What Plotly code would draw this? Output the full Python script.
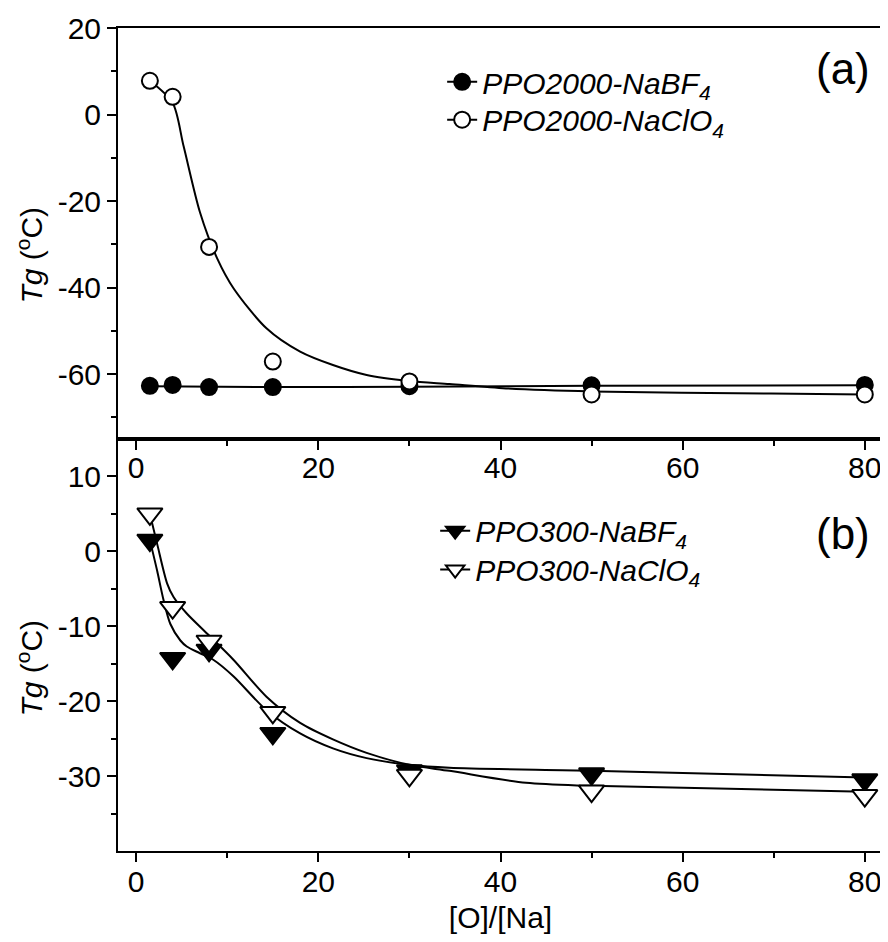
import plotly.graph_objects as go

# ---------------- data ----------------
ratio = [1.5, 4, 8, 15, 30, 50, 80]

# panel (a): PPO2000
tg_a_bf4 = [-62.7, -62.5, -63.0, -63.0, -62.8, -62.6, -62.5]
tg_a_clo4 = [7.8, 4.1, -30.6, -57.1, -61.7, -64.7, -64.7]

# fitted guide curves, panel (a)
fit_a_bf4_x = [1.5, 15, 30, 50, 80]
fit_a_bf4_y = [-62.8, -63.0, -62.9, -62.7, -62.6]
fit_a_clo4_x = [1.5, 4, 5.2, 7.0, 8.9, 10.7, 14.3, 18.0, 21.6, 25.3, 30, 34.4, 40.6, 50, 69.7, 80]
fit_a_clo4_y = [7.8, 2.7, -7.3, -22.6, -33.3, -40.2, -49.4, -54.8, -57.9, -60.2, -61.6, -62.3, -63.3, -64.0, -64.5, -64.7]

# panel (b): PPO300
tg_b_bf4 = [1.5, -14.3, -13.2, -24.3, -29.3, -29.7, -30.5]
tg_b_clo4 = [5.0, -7.5, -12.0, -21.5, -29.9, -32.0, -32.6]

fit_b_bf4_x = [1.5, 2.3, 3.0, 3.75, 4.85, 5.55, 7.0, 8.5, 10.7, 14.3, 18.0, 21.6, 25.3, 30, 34.4, 50, 80]
fit_b_bf4_y = [1.5, -2.6, -6.5, -9.7, -11.9, -12.7, -13.6, -14.5, -16.7, -21.2, -24.3, -26.3, -27.6, -28.5, -28.9, -29.3, -30.2]
fit_b_clo4_x = [1.5, 2.3, 3.4, 4.1, 5.55, 7.8, 10.7, 14.3, 18.0, 21.6, 25.3, 30, 34.4, 42.8, 50, 80]
fit_b_clo4_y = [5.0, 1.0, -4.3, -6.1, -8.3, -11.0, -14.5, -19.4, -22.9, -25.1, -26.9, -28.5, -29.3, -30.9, -31.3, -32.1]

names_a = ["<i>PPO2000-NaBF<sub>4</sub></i>", "<i>PPO2000-NaClO<sub>4</sub></i>"]
names_b = ["<i>PPO300-NaBF<sub>4</sub></i>", "<i>PPO300-NaClO<sub>4</sub></i>"]

ya_ticks = [-60, -40, -20, 0, 20]
yb_ticks = [-30, -20, -10, 0, 10]
x_ticks = [0, 20, 40, 60, 80]

FONT = "Liberation Sans, Arial, sans-serif"
LW = 2
CIRC = 16
TRI = 22

fig = go.Figure()

def fit_line(x, y, xa, ya):
    fig.add_trace(go.Scatter(x=x, y=y, mode="lines", line=dict(color="black", width=LW, shape="spline", smoothing=0.8),
                             xaxis=xa, yaxis=ya, showlegend=False, hoverinfo="skip"))

def pts(x, y, xa, ya, symbol, fill, size):
    fig.add_trace(go.Scatter(x=x, y=y, mode="markers", showlegend=False,
                             marker=dict(symbol=symbol, size=size, color=fill, line=dict(color="black", width=2)),
                             xaxis=xa, yaxis=ya))

def legend_item(symbol, fill, name, legend, xa, ya, size):
    fig.add_trace(go.Scatter(x=[None], y=[None], mode="lines+markers", name=name, legend=legend,
                             line=dict(color="black", width=LW),
                             marker=dict(symbol=symbol, size=size, color=fill, line=dict(color="black", width=2)),
                             xaxis=xa, yaxis=ya))

# panel (a) -> x2/y2 (top)
fit_line(fit_a_bf4_x, fit_a_bf4_y, "x2", "y2")
fit_line(fit_a_clo4_x, fit_a_clo4_y, "x2", "y2")
pts(ratio, tg_a_bf4, "x2", "y2", "circle", "black", CIRC)
pts(ratio, tg_a_clo4, "x2", "y2", "circle", "white", CIRC)
legend_item("circle", "black", names_a[0], "legend", "x2", "y2", CIRC)
legend_item("circle", "white", names_a[1], "legend2", "x2", "y2", CIRC)

# panel (b) -> x/y (bottom)
fit_line(fit_b_bf4_x, fit_b_bf4_y, "x", "y")
fit_line(fit_b_clo4_x, fit_b_clo4_y, "x", "y")
pts(ratio, tg_b_bf4, "x", "y", "triangle-down", "black", TRI)
pts(ratio, tg_b_clo4, "x", "y", "triangle-down", "white", TRI)
legend_item("triangle-down", "black", names_b[0], "legend3", "x", "y", TRI)
legend_item("triangle-down", "white", names_b[1], "legend4", "x", "y", TRI)

tickfont = dict(family=FONT, size=30, color="black")
common_axis = dict(showline=True, linecolor="black", linewidth=2, mirror=True, showgrid=False, zeroline=False,
                   ticks="outside", ticklen=9, tickwidth=2, tickcolor="black", tickfont=tickfont)
minor_x = dict(dtick=10, ticks="outside", ticklen=5, tickwidth=2, tickcolor="black")

split = (855 - 441) / 827

def leg(px_left, px_top):
    return dict(x=(px_left - 118) / 767, y=(855 - px_top) / 827, xanchor="left", yanchor="top",
                bgcolor="rgba(0,0,0,0)", font=dict(family=FONT, size=30, color="black"), tracegroupgap=0)

fig.update_layout(
    width=880, height=926,
    margin=dict(l=110, r=3, t=20, b=79),
    paper_bgcolor="white", plot_bgcolor="white",
    font=dict(family=FONT, size=30, color="black"),
    xaxis=dict(domain=[0, 1], range=[-2, 82], tickvals=x_ticks, ticktext=[str(v) for v in x_ticks], anchor="y",
               minor=minor_x, ticklabelstandoff=-6,
               title=dict(text="[O]/[Na]", font=dict(family=FONT, size=30), standoff=12), **common_axis),
    yaxis=dict(domain=[0, split], range=[-40, 15], tickvals=yb_ticks, ticktext=[str(v) for v in yb_ticks], anchor="x",
               minor=dict(tickvals=[-35, -25, -15, -5, 5], ticks="outside", ticklen=5, tickwidth=2, tickcolor="black"),
               **common_axis),
    xaxis2=dict(domain=[0, 1], range=[-2, 82], tickvals=x_ticks, ticktext=[str(v) for v in x_ticks], anchor="y2",
                minor=minor_x, ticklabelstandoff=-8, **common_axis),
    yaxis2=dict(domain=[split, 1], range=[-75, 20], tickvals=ya_ticks, ticktext=[str(v) for v in ya_ticks], anchor="x2",
                minor=dict(tickvals=[-70, -50, -30, -10, 10], ticks="outside", ticklen=5, tickwidth=2, tickcolor="black"),
                **common_axis),
    legend=leg(443, 56),
    legend2=leg(443, 94),
    legend3=leg(436, 507),
    legend4=leg(436, 546),
    showlegend=True,
)

ytitle = "<i>Tg</i> (<sup>o</sup>C)"
for yc in [256.5, 671.5]:
    fig.add_annotation(text=ytitle, xref="paper", yref="paper", x=(30 - 118) / 767, y=(855 - yc) / 827,
                       textangle=-90, showarrow=False, xanchor="center", yanchor="middle",
                       font=dict(family=FONT, size=30, color="black"))
fig.add_annotation(text="(a)", xref="paper", yref="paper", x=(845 - 118) / 767, y=(855 - 69) / 827,
                   showarrow=False, xanchor="center", yanchor="middle", font=dict(family=FONT, size=44, color="black"))
fig.add_annotation(text="(b)", xref="paper", yref="paper", x=(845 - 118) / 767, y=(855 - 536) / 827,
                   showarrow=False, xanchor="center", yanchor="middle", font=dict(family=FONT, size=44, color="black"))

fig.write_html("out.html")
